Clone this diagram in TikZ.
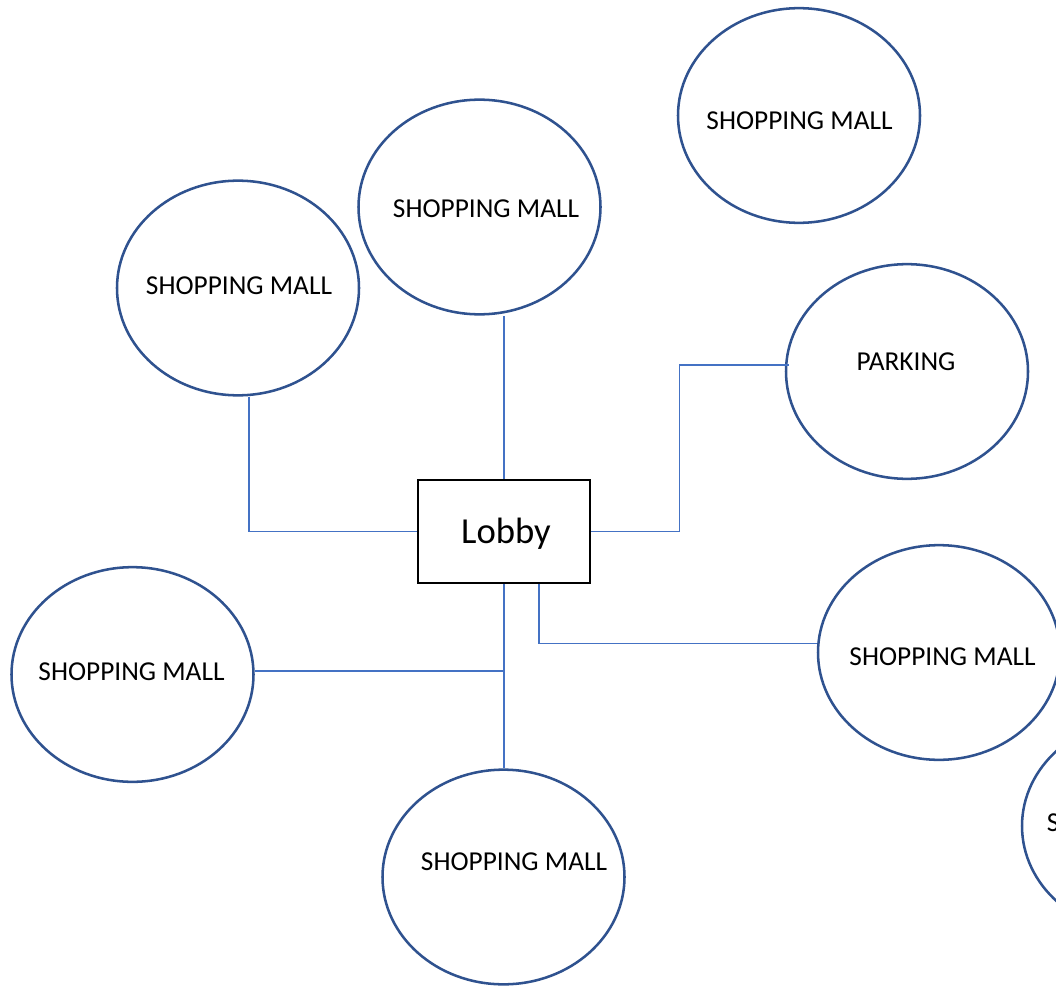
\documentclass[tikz,border=0pt]{standalone}
\usepackage{fontspec}
\setmainfont{Carlito}
\usetikzlibrary{shapes.geometric,calc}
\definecolor{ellblue}{HTML}{2F528F}
\definecolor{connblue}{HTML}{4472C4}
\tikzset{
  mall/.style={draw=ellblue, line width=1.9pt, ellipse, inner sep=0pt,
    minimum width=181.5pt, minimum height=161pt},
  txt/.style={anchor=base, inner sep=0pt, font=\fontsize{20.5}{24}\selectfont},
  lobbybox/.style={draw=black, line width=2.2pt, rectangle, inner sep=0pt,
    minimum width=129pt, minimum height=77.25pt},
  conn/.style={draw=connblue, line width=1.1pt}
}
\begin{document}
\begin{tikzpicture}[x=0.75pt, y=-0.75pt]
\useasboundingbox (0,0) rectangle (1056,988);
\clip (0,0) rectangle (1056,988);
% ellipses
\node[mall] (m1) at (799,115.5) {};
\node[mall] (m2) at (479.5,207) {};
\node[mall] (m3) at (238,288) {};
\node[mall] (m4) at (907,371.5) {};
\node[mall] (m5) at (939,652.5) {};
\node[mall] (m6) at (132.5,674.5) {};
\node[mall] (m7) at (503.5,877) {};
\node[mall] (m8) at (1143,826) {};
% texts
\node[txt] (t1) at (799.5,129.3) {SHOPPING MALL};
\node[txt] (t2) at (486,217) {SHOPPING MALL};
\node[txt] (t3) at (239,294) {SHOPPING MALL};
\node[txt] (t4) at (906,370) {PARKING};
\node[txt] (t5) at (942.5,665) {SHOPPING MALL};
\node[txt] (t6) at (131.5,680) {SHOPPING MALL};
\node[txt] (t7) at (514,870) {SHOPPING MALL};
\node[txt] (t8) at (1140,831) {SHOPPING MALL};
% lobby
\node[lobbybox] (lobby) at (504,531.5) {};
\node[anchor=base, inner sep=0pt, font=\fontsize{27.5}{32}\selectfont] (tl) at (506,543) {Lobby};
% connectors
\draw[conn] ($(m3.south)+(11,0)$) |- (lobby.west);
\draw[conn] (lobby.north) -- (lobby.north |- m2.south);
\draw[conn] (lobby.east) -- ++(88,0) |- ($(m4.west)+(4,-6.5)$);
\draw[conn] (lobby.south) -- (lobby.south |- m7.north);
\draw[conn] ($(m6.east)+(0,-3.5)$) -- (lobby.south |- {$(m6.east)+(0,-3.5)$});
\draw[conn] ($(lobby.south)+(35,0)$) |- ($(m5.west)+(0,-9)$);
\end{tikzpicture}
\end{document}
